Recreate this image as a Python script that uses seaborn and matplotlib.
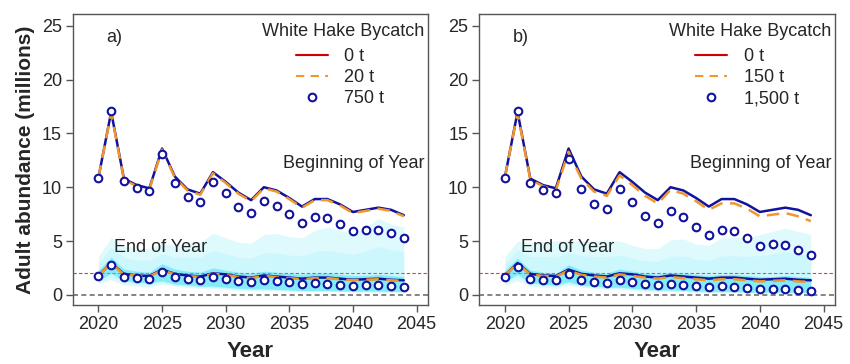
import numpy as np
import pandas as pd
import matplotlib
matplotlib.use("Agg")
import matplotlib.pyplot as plt
from matplotlib.lines import Line2D
import seaborn as sns

years = list(range(2020, 2045))

# Beginning of year (millions)
boy_0t = [10.9, 17.0, 10.8, 10.2, 9.9, 13.6, 11.0, 9.8, 9.4, 11.4, 10.5, 9.5, 8.8, 10.0, 9.7,
          9.0, 8.2, 8.9, 8.9, 8.4, 7.7, 7.9, 8.1, 7.9, 7.4]
boy_20t = [10.9, 16.9, 10.7, 10.1, 9.8, 13.5, 10.9, 9.7, 9.3, 11.3, 10.4, 9.4, 8.7, 9.9, 9.6,
           8.9, 8.1, 8.8, 8.8, 8.3, 7.6, 7.8, 8.0, 7.8, 7.3]
boy_750t = [10.9, 17.1, 10.6, 9.95, 9.65, 13.1, 10.4, 9.05, 8.6, 10.5, 9.45, 8.2, 7.6, 8.7, 8.25,
            7.5, 6.7, 7.25, 7.15, 6.6, 5.9, 6.0, 6.0, 5.7, 5.25]
boy_150t = [10.9, 16.9, 10.7, 10.1, 9.7, 13.3, 10.8, 9.6, 9.2, 11.1, 10.2, 9.2, 8.5, 9.75, 9.4,
            8.7, 7.9, 8.5, 8.5, 8.0, 7.3, 7.45, 7.6, 7.3, 6.85]
boy_1500t = [10.9, 17.1, 10.4, 9.75, 9.45, 12.65, 9.85, 8.45, 8.0, 9.85, 8.65, 7.35, 6.7, 7.8, 7.2,
             6.3, 5.55, 6.05, 5.95, 5.25, 4.5, 4.7, 4.6, 4.2, 3.7]

# End of year (millions)
eoy_0t = [1.8, 2.95, 1.95, 1.8, 1.75, 2.35, 1.95, 1.8, 1.7, 2.0, 1.9, 1.7, 1.6, 1.8, 1.7,
          1.6, 1.5, 1.6, 1.6, 1.5, 1.4, 1.45, 1.5, 1.4, 1.35]
eoy_20t = [1.8, 2.9, 1.9, 1.8, 1.7, 2.3, 1.9, 1.75, 1.65, 1.95, 1.85, 1.65, 1.55, 1.75, 1.65,
           1.55, 1.45, 1.55, 1.55, 1.45, 1.35, 1.4, 1.45, 1.35, 1.3]
eoy_750t = [1.75, 2.8, 1.7, 1.6, 1.5, 2.1, 1.65, 1.45, 1.35, 1.65, 1.45, 1.3, 1.15, 1.35, 1.25,
            1.15, 1.0, 1.1, 1.05, 0.95, 0.85, 0.9, 0.9, 0.8, 0.75]
eoy_150t = [1.8, 2.9, 1.9, 1.75, 1.7, 2.25, 1.85, 1.7, 1.6, 1.9, 1.75, 1.6, 1.5, 1.65, 1.55,
            1.45, 1.35, 1.45, 1.45, 1.35, 1.25, 1.3, 1.35, 1.25, 1.2]
eoy_1500t = [1.65, 2.6, 1.5, 1.4, 1.35, 1.9, 1.35, 1.2, 1.1, 1.35, 1.2, 1.0, 0.9, 1.05, 0.95,
             0.8, 0.7, 0.8, 0.75, 0.65, 0.55, 0.55, 0.55, 0.45, 0.4]

# Uncertainty envelopes of end-of-year abundance
outer_lo_a = [1.0, 1.4, 0.9, 0.8, 0.7, 1.0, 0.8, 0.7, 0.6, 0.6, 0.5, 0.4, 0.4, 0.4, 0.4,
              0.3, 0.3, 0.3, 0.3, 0.3, 0.25, 0.25, 0.25, 0.25, 0.25]
outer_hi_a = [3.6, 5.3, 4.5, 4.3, 4.3, 4.8, 4.6, 4.8, 4.9, 5.7, 5.3, 4.9, 4.8, 5.6, 5.7,
              5.4, 5.3, 6.0, 6.3, 6.0, 5.7, 6.3, 7.1, 6.6, 6.3]
inner_lo_a = [1.3, 2.0, 1.3, 1.2, 1.1, 1.3, 1.0, 0.9, 0.8, 0.8, 0.7, 0.6, 0.55, 0.55, 0.5,
              0.45, 0.4, 0.4, 0.4, 0.35, 0.35, 0.35, 0.35, 0.3, 0.3]
inner_hi_a = [2.3, 3.5, 2.4, 2.2, 2.1, 2.9, 2.4, 2.2, 2.1, 2.5, 2.3, 2.1, 2.0, 2.2, 2.1,
              2.0, 1.9, 2.0, 2.0, 1.9, 1.8, 1.8, 1.9, 1.8, 1.7]

outer_lo_b = [0.9, 1.3, 0.8, 0.7, 0.6, 0.9, 0.7, 0.6, 0.5, 0.5, 0.4, 0.3, 0.3, 0.3, 0.3,
              0.2, 0.2, 0.2, 0.2, 0.15, 0.15, 0.15, 0.15, 0.15, 0.15]
outer_hi_b = [3.5, 5.0, 4.8, 5.0, 5.0, 5.1, 5.0, 5.0, 5.1, 5.0, 4.6, 4.3, 4.3, 5.1, 5.2,
              4.7, 4.6, 5.3, 5.4, 5.3, 5.6, 5.9, 6.2, 5.9, 5.6]
inner_lo_b = [1.2, 1.9, 1.1, 1.0, 0.9, 1.2, 0.9, 0.8, 0.7, 0.7, 0.6, 0.5, 0.45, 0.45, 0.4,
              0.35, 0.3, 0.3, 0.3, 0.25, 0.25, 0.25, 0.25, 0.2, 0.2]
inner_hi_b = [2.3, 3.4, 2.3, 2.1, 2.0, 2.8, 2.3, 2.1, 2.0, 2.4, 2.2, 2.0, 1.9, 2.1, 2.0,
              1.9, 1.8, 1.9, 1.9, 1.8, 1.7, 1.7, 1.8, 1.7, 1.6]

panel_labels = ["a)", "b)"]
mid_labels = [["0 t", "20 t", "750 t"], ["0 t", "150 t", "1,500 t"]]
legend_x = [2035.5, 2034.9]
ref_threshold = 2.0

sns.set_theme(style="white")
plt.rcParams["font.family"] = ["Liberation Sans", "DejaVu Sans"]

BLUE = "#12129e"
ORANGE = "#f0962a"
RED = "#d00000"
CYAN = "#2ee0f4"
FS = 13

fig = plt.figure(figsize=(8.5, 3.64), dpi=100)
ax_a = fig.add_axes([0.0859, 0.162, 0.4176, 0.7995])
ax_b = fig.add_axes([0.5639, 0.162, 0.4185, 0.7995])

panels = [
    (ax_a, boy_0t, boy_20t, boy_750t, eoy_0t, eoy_20t, eoy_750t,
     outer_lo_a, outer_hi_a, inner_lo_a, inner_hi_a),
    (ax_b, boy_0t, boy_150t, boy_1500t, eoy_0t, eoy_150t, eoy_1500t,
     outer_lo_b, outer_hi_b, inner_lo_b, inner_hi_b),
]

for i, (ax, b0, bmid, bhi, e0, emid, ehi, olo, ohi, ilo, ihi) in enumerate(panels):
    ax.axhline(ref_threshold, color="#e03a3a", lw=0.8, ls=(0, (3, 2)), zorder=1)
    ax.axhline(0, color="#707070", lw=1.2, ls=(0, (3, 2)), zorder=1)

    ax.fill_between(years, olo, ohi, color=CYAN, alpha=0.15, lw=0, zorder=1.5)
    mid_lo = [(a + b) / 2 for a, b in zip(olo, ilo)]
    mid_hi = [(a + b) / 2 for a, b in zip(ohi, ihi)]
    ax.fill_between(years, mid_lo, mid_hi, color=CYAN, alpha=0.10, lw=0, zorder=1.6)
    ax.fill_between(years, ilo, ihi, color=CYAN, alpha=0.45, lw=0, zorder=1.7)

    for seg0, segm, segh in [(b0, bmid, bhi), (e0, emid, ehi)]:
        df = pd.DataFrame({"year": years, "v0": seg0, "vm": segm, "vh": segh})
        sns.lineplot(data=df, x="year", y="v0", ax=ax, color=BLUE, lw=1.8, zorder=3)
        sns.lineplot(data=df, x="year", y="vm", ax=ax, color=ORANGE, lw=1.8,
                     dashes=False, zorder=4, linestyle=(0, (5, 3)))
        sns.scatterplot(data=df, x="year", y="vh", ax=ax, marker="o", s=30,
                        facecolor="white", edgecolor=BLUE, linewidth=1.5, zorder=5)

    ax.set_xlim(2018, 2045.9)
    ax.set_ylim(-0.95, 26.1)
    ax.set_xticks([2020, 2025, 2030, 2035, 2040, 2045])
    ax.set_yticks([0, 5, 10, 15, 20, 25])
    ax.tick_params(axis="both", direction="out", length=5, width=1, color="#555555",
                   labelsize=FS, pad=3, bottom=True, left=True)
    for sp in ax.spines.values():
        sp.set_color("#555555")
        sp.set_linewidth(1.0)
    ax.set_xlabel("Year", fontsize=16, fontweight="bold", labelpad=6)
    ax.set_ylabel("")

    ax.text(2020.6, 23.9, panel_labels[i], fontsize=FS, va="center", ha="left")
    ax.text(0.99, 0.487, "Beginning of Year", transform=ax.transAxes,
            fontsize=FS, ha="right", va="center")
    ax.text(2021.25, 4.4, "End of Year", fontsize=FS, ha="left", va="center")

    ax.text(0.99, 24.5, "White Hake Bycatch", transform=ax.get_yaxis_transform(),
            fontsize=FS, ha="right", va="center")
    handles = [
        Line2D([], [], color=RED, lw=1.5),
        Line2D([], [], color=ORANGE, lw=1.5, ls=(0, (4, 3))),
        Line2D([], [], color=BLUE, lw=0, marker="o", markersize=5.5,
               markerfacecolor="white", markeredgewidth=1.5),
    ]
    ax.legend(handles, mid_labels[i], loc="upper left",
              bbox_to_anchor=(legend_x[i], 22.95), bbox_transform=ax.transData,
              frameon=False, fontsize=FS, handlelength=1.8,
              handletextpad=0.9, labelspacing=0.23, borderaxespad=0.0,
              borderpad=0.0)

ax_a.set_ylabel("Adult abundance (millions)", fontsize=15, fontweight="bold", labelpad=5)

fig.savefig("out.png", dpi=100)
